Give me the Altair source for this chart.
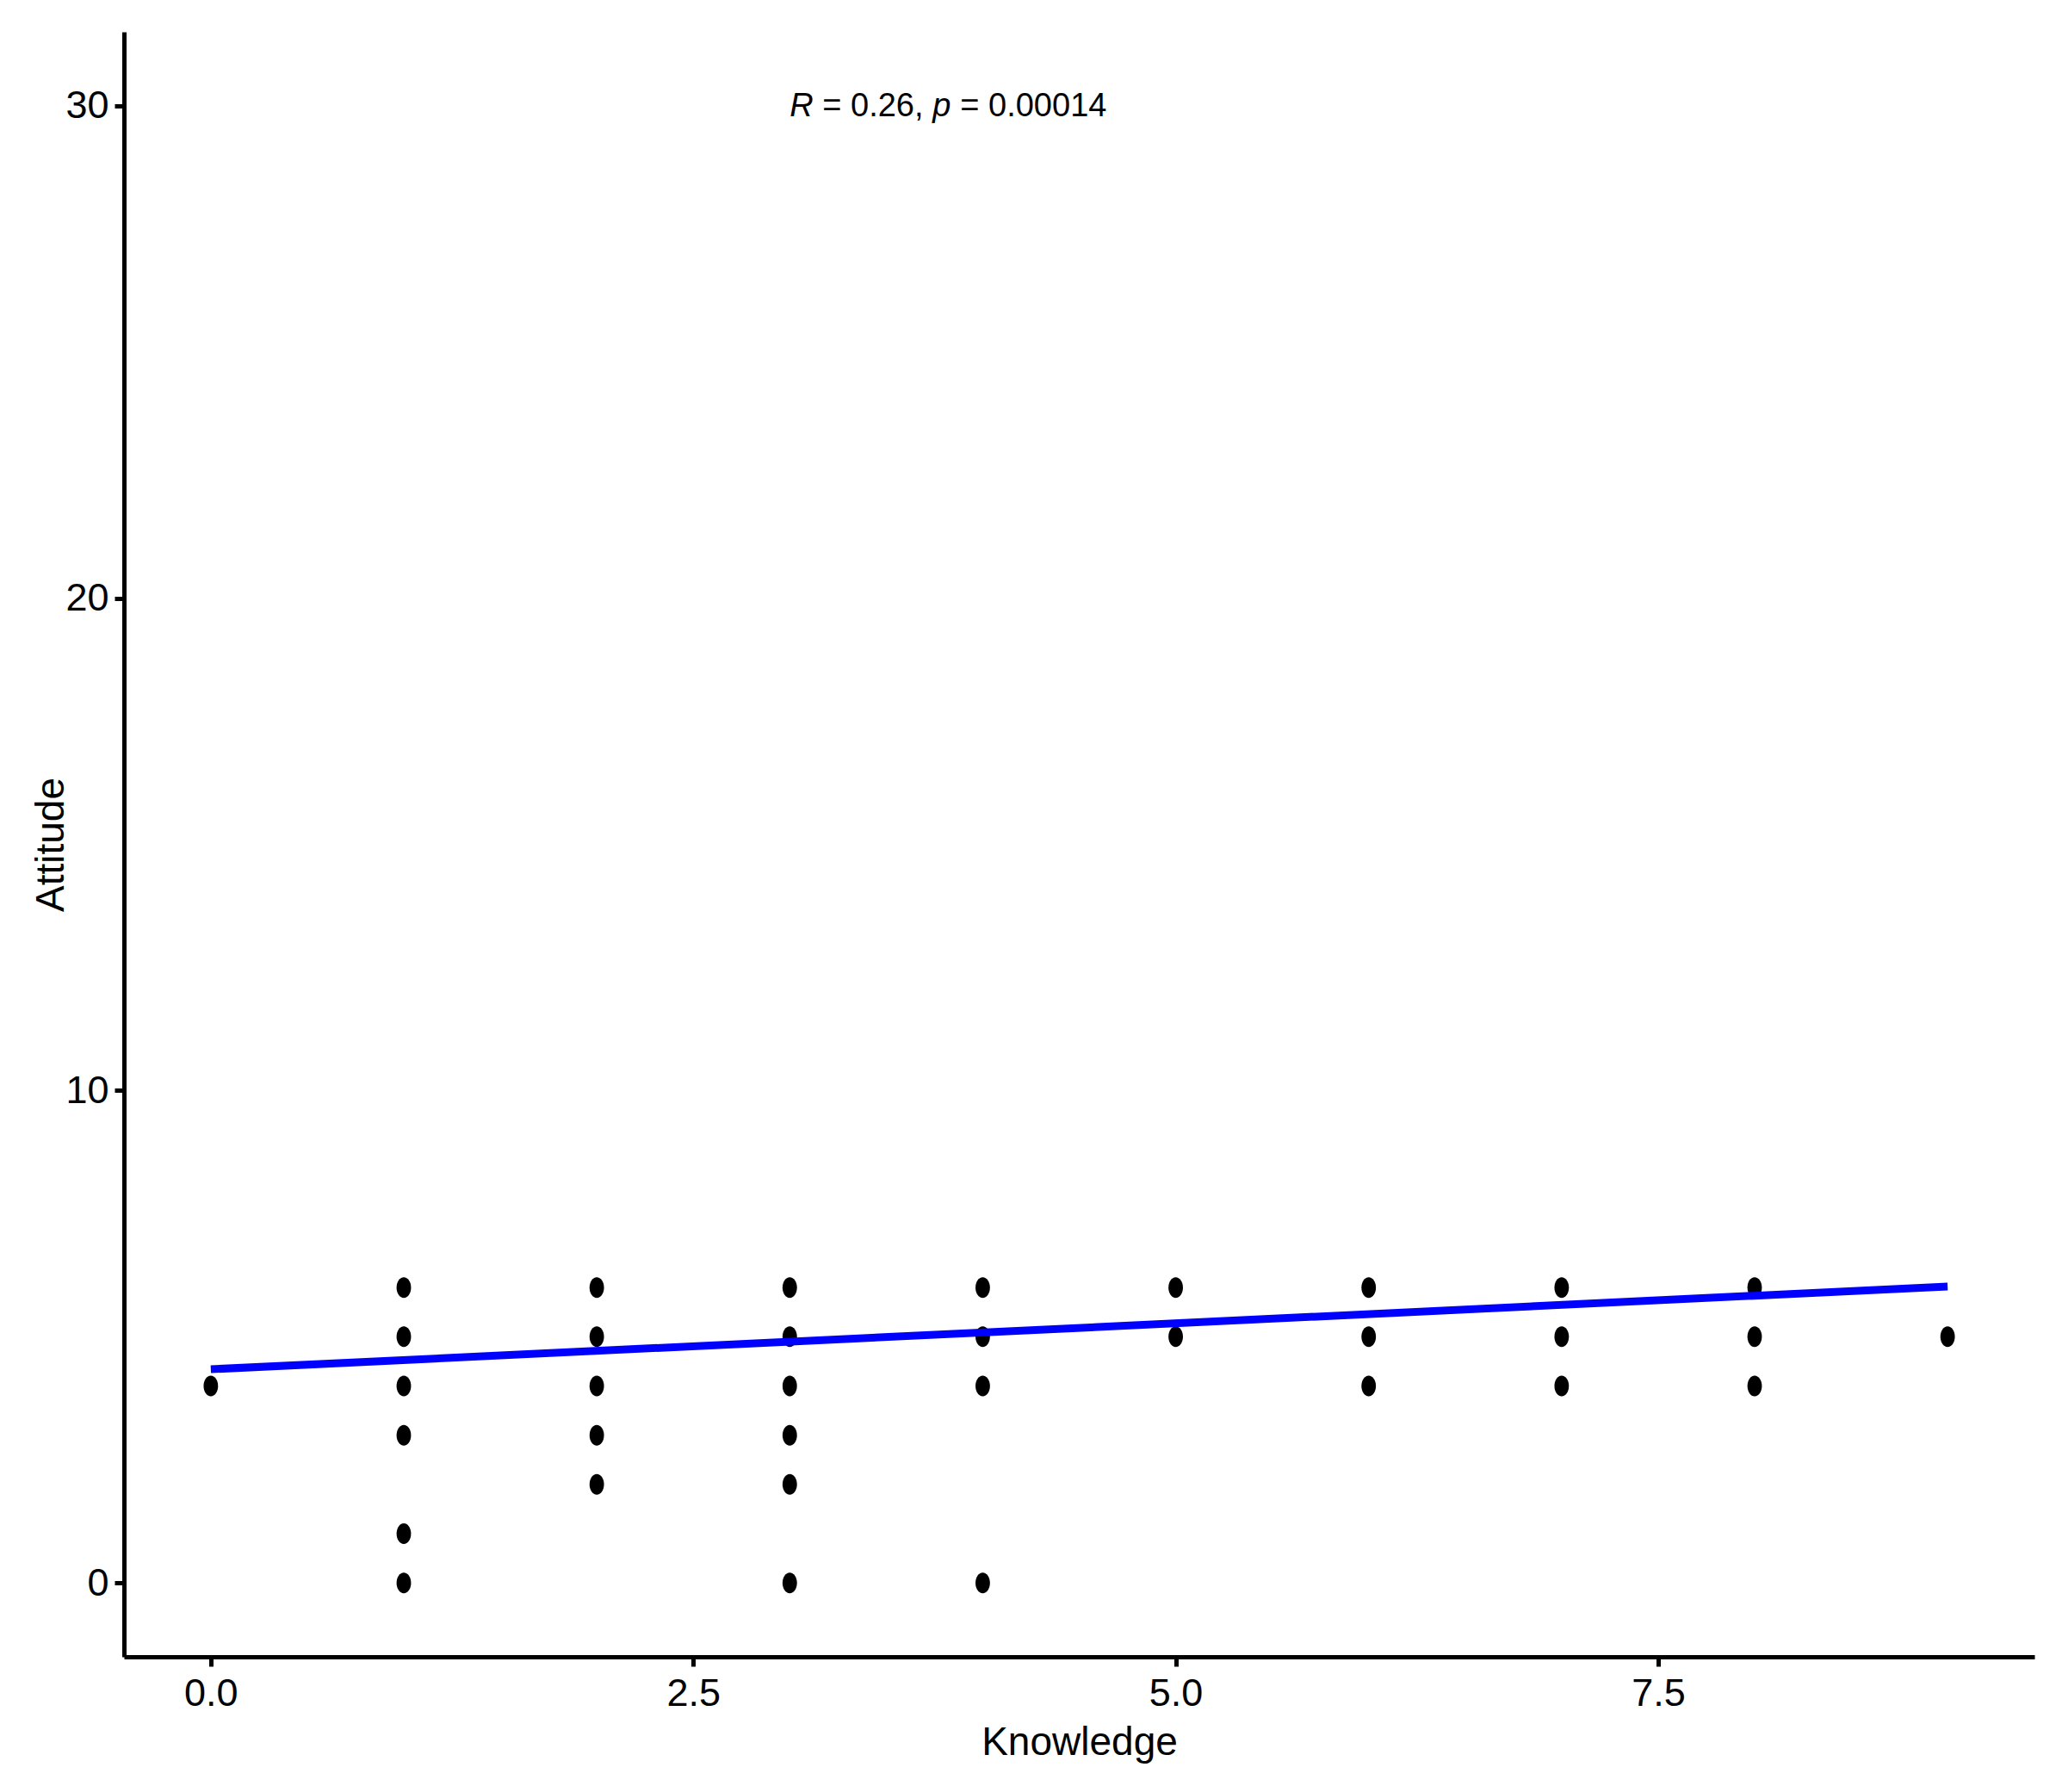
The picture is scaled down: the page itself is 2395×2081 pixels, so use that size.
import altair as alt
import pandas as pd

# ---- data ----
knowledge = [0, 1, 1, 1, 1, 1, 1, 2, 2, 2, 2, 2, 3, 3, 3, 3, 3, 3,
             4, 4, 4, 4, 5, 5, 6, 6, 6, 7, 7, 7, 8, 8, 8, 9]
attitude = [4, 6, 5, 4, 3, 1, 0, 6, 5, 4, 3, 2, 6, 5, 4, 3, 2, 0,
            6, 5, 4, 0, 6, 5, 6, 5, 4, 6, 5, 4, 6, 5, 4, 5]
fit_x = [0, 9]
fit_y = [4.34, 6.02]
x_ticks = [0, 2.5, 5, 7.5]
y_ticks = [0, 10, 20, 30]
label_parts = ["R", "= 0.26,", "p", "= 0.00014"]
label_x = 3
label_y = 30

FONT = "Liberation Sans, Arial, Helvetica, sans-serif"

pts = pd.DataFrame({"Knowledge": knowledge, "Attitude": attitude})
fit = pd.DataFrame({"Knowledge": fit_x, "Attitude": fit_y})
lab = pd.DataFrame({"Knowledge": [label_x] * len(label_parts),
                    "Attitude": [label_y] * len(label_parts),
                    "txt": label_parts,
                    "part": list(range(len(label_parts)))})

W, H = 2219, 1887

xscale = alt.Scale(domain=[-0.45, 9.45], nice=False, zero=False)
yscale = alt.Scale(domain=[-1.5, 31.5], nice=False, zero=False)

common_axis = dict(
    grid=False, domainColor="black", domainWidth=5, tickColor="black",
    tickWidth=5, tickSize=11, labelFont=FONT, labelFontSize=45,
    labelColor="black", titleFont=FONT, titleFontSize=46, titleColor="black",
    titleFontWeight="normal", labelFlush=False, labelOverlap=False,
)

xaxis = alt.Axis(values=x_ticks, format=".1f", title="Knowledge",
                 labelPadding=9, titleX=W / 2, titleY=113,
                 titleBaseline="alphabetic", titleAlign="center", **common_axis)
yaxis = alt.Axis(values=y_ticks, format="d", title="Attitude",
                 labelPadding=7, titleX=-71, titleY=H / 2,
                 titleAngle=270, titleBaseline="alphabetic", titleAlign="center",
                 **common_axis)

ellipse = ("M0,-1 C0.3866,-1 0.7,-0.5523 0.7,0 C0.7,0.5523 0.3866,1 0,1 "
           "C-0.3866,1 -0.7,0.5523 -0.7,0 C-0.7,-0.5523 -0.3866,-1 0,-1 Z")

points = alt.Chart(pts).mark_point(
    shape=ellipse, size=576, filled=True, opacity=1, color="black", strokeWidth=0
).encode(
    x=alt.X("Knowledge:Q", scale=xscale, axis=xaxis),
    y=alt.Y("Attitude:Q", scale=yscale, axis=yaxis),
)

line = alt.Chart(fit).mark_line(color="#0000FF", strokeWidth=9, strokeCap="butt").encode(
    x=alt.X("Knowledge:Q", scale=xscale),
    y=alt.Y("Attitude:Q", scale=yscale),
)

# horizontal offsets (px) of the four pieces of the annotation, font size 38
offsets = [0, 38, 166, 198]
texts = []
for i, off in enumerate(offsets):
    kw = dict(align="left", baseline="alphabetic", dx=off, dy=12, fontSize=38,
              font=FONT, color="black")
    if i % 2 == 0:
        kw["fontStyle"] = "italic"
    t = alt.Chart(lab).transform_filter(alt.datum.part == i).mark_text(**kw).encode(
        x=alt.X("Knowledge:Q", scale=xscale),
        y=alt.Y("Attitude:Q", scale=yscale),
        text="txt:N",
    )
    texts.append(t)

chart = alt.layer(points, line, *texts).properties(
    width=W, height=H,
    autosize=alt.AutoSizeParams(type="none"),
    padding={"left": 136, "top": 29, "right": 24, "bottom": 140},
    background="white",
).configure_view(stroke=None)

chart.save("out.html", embed_options={"renderer": "svg", "actions": False})
